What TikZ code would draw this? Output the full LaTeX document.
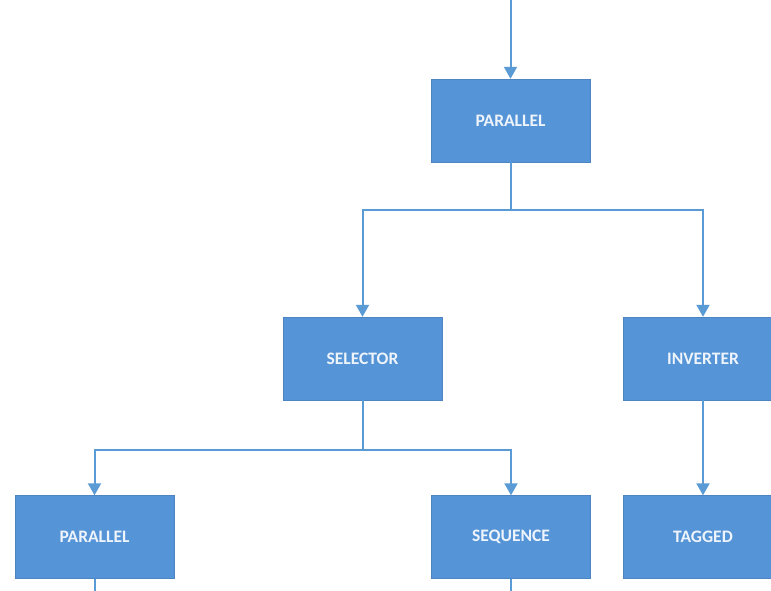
\documentclass[tikz,border=0pt]{standalone}
\usepackage{fontspec}
\setmainfont{Carlito}
\usetikzlibrary{arrows.meta}
\definecolor{boxblue}{HTML}{5594D6}
\definecolor{lineblue}{HTML}{5B9BD5}
\definecolor{labelwhite}{HTML}{EEF4FB}
\begin{document}
\begin{tikzpicture}[x=1pt,y=-1pt,
  block/.style={rectangle, fill=boxblue, draw=boxblue!90!black, line width=0.4pt,
    minimum width=159pt, minimum height=83pt, inner sep=0pt,
    text=labelwhite, font=\fontsize{17.5}{20}\selectfont\bfseries},
  link/.style={draw=lineblue, line width=2pt,
    -{Triangle[length=12pt,width=13pt]}},
  plain/.style={draw=lineblue, line width=2pt}]
  \path[use as bounding box, fill=white] (0,0) rectangle (771,591);
  \clip (0,0) rectangle (771,591);

  % tree nodes
  \node[block] (par1) at (510.5,120.5) {PARALLEL};
  \node[block] (sel)  at (362.5,358.5) {SELECTOR};
  \node[block] (inv)  at (703,358.5)   {INVERTER};
  \node[block] (par2) at (94.5,537)    {PARALLEL};
  \node[block] (seq)  at (511,537)     {SEQUENCE};
  \node[block] (tag)  at (703,537)     {TAGGED};

  % junctions and free ends
  \coordinate (in)    at (510.5,-2);
  \coordinate (fork1) at (510.5,210);
  \coordinate (fork2) at (362.5,450);
  \coordinate (out2)  at (94.5,595);
  \coordinate (outs)  at (511,595);

  % connectors
  \draw[link] (in) -- (par1);
  \draw[plain] (par1) -- (fork1);
  \draw[link] (fork1) -| (sel);
  \draw[link] (fork1) -| (inv);
  \draw[link] (inv) -- (tag);
  \draw[plain] (sel) -- (fork2);
  \draw[link] (fork2) -| (par2);
  \draw[link] (fork2) -| (seq);
  \draw[plain] (par2) -- (out2);
  \draw[plain] (seq) -- (outs);
\end{tikzpicture}
\end{document}
